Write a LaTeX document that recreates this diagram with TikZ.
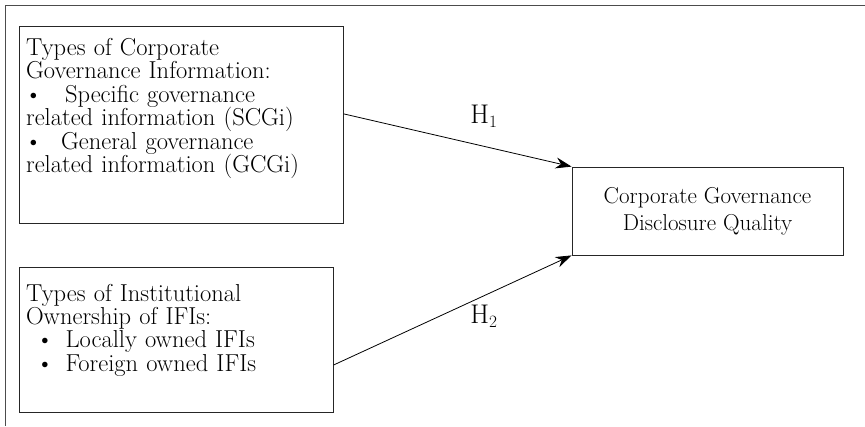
\documentclass[tikz,border=0pt]{standalone}
\usepackage{fontspec}
\usetikzlibrary{arrows.meta, positioning}

\begin{document}
\begin{tikzpicture}[x=1pt, y=-1pt,
		box/.style={draw=black!85, line width=0.8pt, anchor=north west, align=left,
			inner xsep=6.7pt, inner ysep=0pt, font=\fontsize{24.5}{23.4}\selectfont},
		link/.style={-{Stealth[length=16pt, width=11pt]}, line width=0.8pt},
		hyp/.style={font=\fontsize{27}{27}\selectfont}]
		\useasboundingbox (0,0) rectangle (865,426);

		% Frame round the figure (only top and left edges are shown)
		\draw[black!70, line width=1.3pt] (865,5.3) -- (5.8,5.3) -- (5.8,426);

		% Add the boxes
		\node[box, text width=310.6pt, text height=29pt, text depth=168pt] (cgi) at (19,26)
			{Types of Corporate\\
			Governance Information:\\
			\hspace*{-1.5pt}\makebox[40.5pt][l]{\textbullet}Specific governance\\
			related information (SCGi)\\
			\hspace*{-1.5pt}\makebox[36.5pt][l]{\textbullet}General governance\\
			related information (GCGi)};
		\node[box, text width=300.6pt, text height=33.7pt, text depth=111.3pt] (own) at (19,267)
			{Types of Institutional\\
			Ownership of IFIs:\\
			\hspace*{10pt}\makebox[29.5pt][l]{\textbullet}Locally owned IFIs\\
			\hspace*{10pt}\makebox[29.5pt][l]{\textbullet}Foreign owned IFIs};
		\node[box, align=center, anchor=center, minimum width=271pt, minimum height=88pt,
			font=\fontsize{23}{27}\selectfont] (cdq) at (707.5,211)
			{Corporate Governance\\ Disclosure Quality};

		% Connect the boxes with arrows
		\draw[link] ([yshift=11pt]cgi.east) -- (cdq.north west);
		\draw[link] ([yshift=-25pt]own.east) -- (cdq.south west);

		% Hypothesis labels
		\node[hyp] (h1) at (484,116) {$\mathrm{H}_1$};
		\node[hyp] (h2) at (484,316) {$\mathrm{H}_2$};
	\end{tikzpicture}
\end{document}
